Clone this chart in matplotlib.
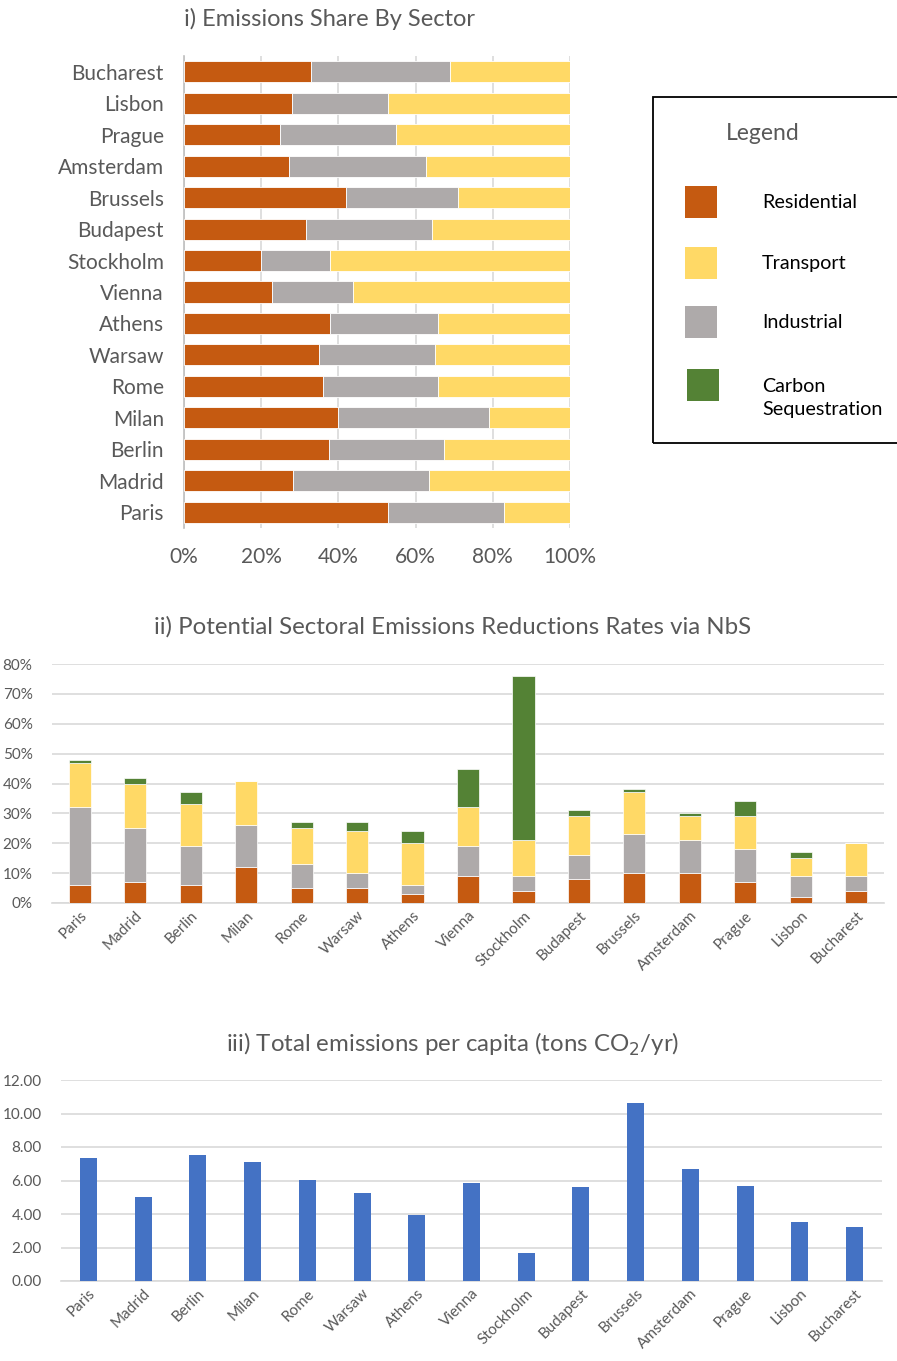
import matplotlib.pyplot as plt
import numpy as np

plt.rcParams['font.family'] = ['Lato', 'DejaVu Sans']

cities = ["Paris", "Madrid", "Berlin", "Milan", "Rome", "Warsaw", "Athens", "Vienna",
          "Stockholm", "Budapest", "Brussels", "Amsterdam", "Prague", "Lisbon", "Bucharest"]

# i) emissions share by sector (%)
share_res = [52.8, 28.2, 37.6, 39.9, 35.9, 35.0, 37.9, 22.8, 19.9, 31.6, 41.9, 27.2, 24.9, 28.0, 32.9]
share_ind = [30.1, 35.4, 29.7, 39.1, 30.0, 30.0, 28.0, 21.1, 18.0, 32.6, 29.1, 35.4, 30.0, 24.9, 36.1]
share_tra = [17.1, 36.4, 32.7, 21.0, 34.1, 35.0, 34.1, 56.1, 62.1, 35.8, 29.0, 37.4, 45.1, 47.1, 31.0]

# ii) potential reduction rates (%)
red_res = [6, 7, 6, 12, 5, 5, 3, 9, 4, 8, 10, 10, 7, 2, 4]
red_ind = [26, 18, 13, 14, 8, 5, 3, 10, 5, 8, 13, 11, 11, 7, 5]
red_tra = [15, 15, 14, 15, 12, 14, 14, 13, 12, 13, 14, 8, 11, 6, 11]
red_seq = [1, 2, 4, 0, 2, 3, 4, 13, 55, 2, 1, 1, 5, 2, 0]

# iii) total emissions per capita (t CO2/yr)
per_capita = [7.32, 5.02, 7.51, 7.10, 6.04, 5.28, 3.95, 5.88, 1.65, 5.60, 10.64, 6.68, 5.70, 3.55, 3.23]

legend_labels = ["Residential", "Transport", "Industrial", "Carbon\nSequestration"]

c_res = "#C55A11"
c_tra = "#FFD966"
c_ind = "#AEAAAA"
c_seq = "#548235"
c_blue = "#4472C4"
grey_txt = "#595959"
grid_c = "#D9D9D9"

W, H = 897, 1361
fig = plt.figure(figsize=(W / 100, H / 100), dpi=100)


def px_axes(x0, y0, x1, y1):
    # pixel box (top-left origin) -> figure axes
    return fig.add_axes([x0 / W, 1 - y1 / H, (x1 - x0) / W, (y1 - y0) / H])


# ---------- chart i ----------
ax1 = px_axes(184, 56, 570, 528)
y = np.arange(len(cities))
res = np.array(share_res) / 100
ind = np.array(share_ind) / 100
tra = np.array(share_tra) / 100
ax1.barh(y, res, height=0.67, color=c_res, edgecolor="white", linewidth=0.6, zorder=3)
ax1.barh(y, ind, left=res, height=0.67, color=c_ind, edgecolor="white", linewidth=0.6, zorder=3)
ax1.barh(y, tra, left=res + ind, height=0.67, color=c_tra, edgecolor="white", linewidth=0.6, zorder=3)
ax1.set_xlim(0, 1)
ax1.set_ylim(-0.5, len(cities) - 0.5)
ax1.set_yticks(y)
ax1.set_yticklabels(cities, fontsize=15, color=grey_txt)
ax1.set_xticks(np.arange(0, 1.01, 0.2))
ax1.set_xticklabels([f"{int(v * 100)}%" for v in np.arange(0, 1.01, 0.2)], fontsize=15, color=grey_txt)
ax1.tick_params(length=0)
ax1.tick_params(axis="y", pad=14.5)
ax1.tick_params(axis="x", pad=14)
ax1.grid(axis="x", color=grid_c, linewidth=1.2, zorder=0)
for s in ["top", "right", "bottom"]:
    ax1.spines[s].set_visible(False)
ax1.spines["left"].set_color("#BFBFBF")
ax1.spines["left"].set_linewidth(1.2)
fig.text(330 / W, 1 - 19 / H, "i) Emissions Share By Sector", ha="center", va="center",
         fontsize=17, color=grey_txt)

# legend box
fig.patches.append(plt.Rectangle((653 / W, 1 - 443 / H), 260 / W, 346 / H, transform=fig.transFigure,
                                 fill=False, edgecolor="black", linewidth=1.3))
fig.text(763 / W, 1 - 134 / H, "Legend", ha="center", va="center", fontsize=16.5, color=grey_txt)
leg_colors = [c_res, c_tra, c_ind, c_seq]
leg_y = [202, 263, 322, 385]
leg_x = [701, 701, 701, 703]
for lab, col, yy, xx in zip(legend_labels, leg_colors, leg_y, leg_x):
    fig.patches.append(plt.Rectangle(((xx - 16) / W, 1 - (yy + 16) / H), 32 / W, 32 / H,
                                     transform=fig.transFigure, facecolor=col, edgecolor="none"))
    ty = yy if "\n" not in lab else yy + 13
    fig.text(762 / W, 1 - ty / H, lab, ha="left", va="center", fontsize=14.2, color="black",
             linespacing=1.45)

# ---------- chart ii ----------
ax2 = px_axes(52, 664, 884, 903)
x = np.arange(len(cities))
r = np.array(red_res) / 100
i_ = np.array(red_ind) / 100
t = np.array(red_tra) / 100
s_ = np.array(red_seq) / 100
bw = 0.4
ax2.bar(x, r, width=bw, color=c_res, edgecolor="white", linewidth=0.5, zorder=3)
ax2.bar(x, i_, bottom=r, width=bw, color=c_ind, edgecolor="white", linewidth=0.5, zorder=3)
ax2.bar(x, t, bottom=r + i_, width=bw, color=c_tra, edgecolor="white", linewidth=0.5, zorder=3)
ax2.bar(x, s_, bottom=r + i_ + t, width=bw, color=c_seq, edgecolor="white", linewidth=0.5, zorder=3)
ax2.set_xlim(-0.5, len(cities) - 0.5)
ax2.set_ylim(0, 0.8)
yt = np.arange(0, 0.81, 0.1)
ax2.set_yticks(yt)
ax2.set_yticklabels([f"{int(round(v * 100))}%" for v in yt], fontsize=11, color=grey_txt)
ax2.set_xticks(x)
ax2.set_xticklabels(cities, rotation=45, ha="right", rotation_mode="anchor", fontsize=11, color=grey_txt)
ax2.tick_params(length=0)
ax2.tick_params(axis="y", pad=14)
ax2.tick_params(axis="x", pad=4)
ax2.grid(axis="y", color=grid_c, linewidth=1.2, zorder=0)
for s in ["top", "right", "left"]:
    ax2.spines[s].set_visible(False)
ax2.spines["bottom"].set_color(grid_c)
ax2.spines["bottom"].set_linewidth(1.2)
fig.text(453 / W, 1 - 627 / H, "ii) Potential Sectoral Emissions Reductions Rates via NbS",
         ha="center", va="center", fontsize=17.3, color=grey_txt)

# ---------- chart iii ----------
ax3 = px_axes(61, 1080, 882, 1281)
ax3.bar(x, per_capita, width=0.31, color=c_blue, zorder=3)
ax3.set_xlim(-0.5, len(cities) - 0.5)
ax3.set_ylim(0, 12)
yt3 = np.arange(0, 12.1, 2)
ax3.set_yticks(yt3)
ax3.set_yticklabels([f"{v:.2f}" for v in yt3], fontsize=11, color=grey_txt)
ax3.set_xticks(x)
ax3.set_xticklabels(cities, rotation=45, ha="right", rotation_mode="anchor", fontsize=11, color=grey_txt)
ax3.tick_params(length=0)
ax3.tick_params(axis="y", pad=14)
ax3.tick_params(axis="x", pad=4)
ax3.grid(axis="y", color=grid_c, linewidth=1.2, zorder=0)
for s in ["top", "right", "left"]:
    ax3.spines[s].set_visible(False)
ax3.spines["bottom"].set_color(grid_c)
ax3.spines["bottom"].set_linewidth(1.2)
fig.text(453 / W, 1 - 1044 / H, r"iii) Total emissions per capita (tons CO$_2$/yr)",
         ha="center", va="center", fontsize=17.3, color=grey_txt)

fig.savefig("out.png", dpi=100)
